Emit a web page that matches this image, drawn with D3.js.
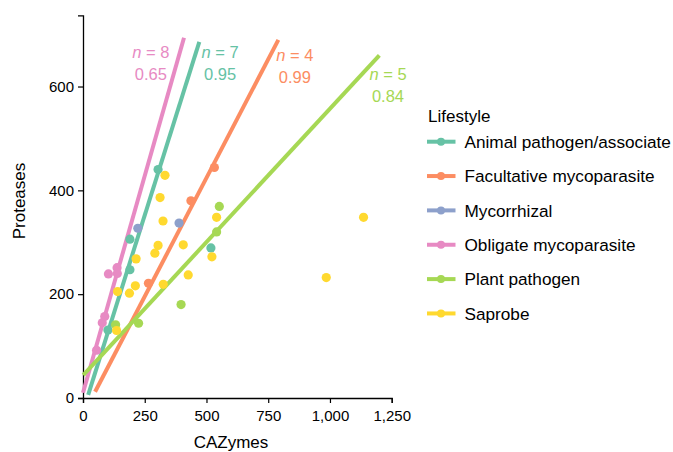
<!DOCTYPE html>
<html>
<head>
<meta charset="utf-8">
<script src="https://cdn.jsdelivr.net/npm/d3@7"></script>
<style>
  body { margin: 0; background: #fff; }
  text { font-family: "Liberation Sans", Arial, sans-serif; }
</style>
</head>
<body>
<script>
// lifestyle groups and Set2-like colours
var groups = ["Animal pathogen/associate", "Facultative mycoparasite", "Mycorrhizal",
              "Obligate mycoparasite", "Plant pathogen", "Saprobe"];
var colors = ["#66c2a5", "#fc8d62", "#8da0cb", "#e78ac3", "#a6d854", "#ffd92f"];

// [CAZymes, Proteases] per species
var animalPts = [[304, 440], [190, 306], [190, 247], [518, 289], [101, 131]];
var facultPts = [[532, 444], [437, 380], [265, 221]];
var mycorPts  = [[222, 327], [389, 337]];
var obligPts  = [[138, 251], [103, 239], [139, 240], [88, 157], [78, 145], [55, 92]];
var plantPts  = [[552, 369], [541, 320], [397, 180], [225, 144], [132, 141]];
var saproPts  = [[312, 386], [324, 341], [541, 348], [304, 294], [291, 279], [406, 295],
                 [522, 272], [215, 268], [426, 237], [325, 219], [212, 216], [188, 202],
                 [140, 205], [136, 130], [985, 232], [1136, 348], [332, 429]];

// fitted lines (start, end) for the four groups with fits
var fitLines = [
  {g: 3, ends: [[0, 10], [409, 694]]},
  {g: 0, ends: [[21, 6], [471, 686]]},
  {g: 1, ends: [[49, 12], [791, 690]]},
  {g: 4, ends: [[1, 44], [1200, 660]]}
];
// annotation: group, n, r2, anchor in data units
var notes = [
  {g: 3, n: 8, r: "0.65", at: [275, 654]},
  {g: 0, n: 7, r: "0.95", at: [555, 654]},
  {g: 1, n: 4, r: "0.99", at: [858, 649]},
  {g: 4, n: 5, r: "0.84", at: [1235, 612]}
];

var xTicks = [0, 250, 500, 750, 1000, 1250];
var yTicks = [0, 200, 400, 600];

var allPts = [animalPts, facultPts, mycorPts, obligPts, plantPts, saproPts];

var W = 673, H = 452;
var svg = d3.select("body").append("svg").attr("width", W).attr("height", H);

var x = d3.scaleLinear().domain([0, 1250]).range([83, 391.7]);
var y = d3.scaleLinear().domain([0, 737]).range([398, 15.4]);

var xAxis = svg.append("g").attr("transform", "translate(0,398)")
  .call(d3.axisBottom(x).tickValues(xTicks).tickFormat(d3.format(",")).tickSize(5).tickPadding(4));
var yAxis = svg.append("g").attr("transform", "translate(83,0)")
  .call(d3.axisLeft(y).tickValues(yTicks).tickSize(5).tickPadding(4));

[xAxis, yAxis].forEach(function(a) {
  a.select(".domain").attr("stroke", "#000").attr("stroke-width", 1.3);
  a.selectAll(".tick line").attr("stroke", "#000").attr("stroke-width", 1.2);
  a.selectAll(".tick text").attr("fill", "#000").style("font-size", "15px");
});
xAxis.selectAll(".tick text").attr("dy", "0.95em");

svg.append("text").attr("x", 231).attr("y", 448).attr("text-anchor", "middle")
  .style("font-size", "17px").text("CAZymes");
svg.append("text").attr("transform", "translate(25,201) rotate(-90)").attr("text-anchor", "middle")
  .style("font-size", "17px").text("Proteases");

// regression lines
svg.selectAll(".fit").data(fitLines).enter().append("line")
  .attr("class", "fit")
  .attr("x1", function(d) { return x(d.ends[0][0]); })
  .attr("y1", function(d) { return y(d.ends[0][1]); })
  .attr("x2", function(d) { return x(d.ends[1][0]); })
  .attr("y2", function(d) { return y(d.ends[1][1]); })
  .attr("stroke", function(d) { return colors[d.g]; })
  .attr("stroke-width", 4);

// points
allPts.forEach(function(pts, gi) {
  svg.append("g").selectAll("circle").data(pts).enter().append("circle")
    .attr("cx", function(d) { return x(d[0]); })
    .attr("cy", function(d) { return y(d[1]); })
    .attr("r", 4.6)
    .attr("fill", colors[gi]);
});

// n and r2 labels
var nt = svg.selectAll(".note").data(notes).enter().append("g").attr("class", "note")
  .attr("transform", function(d) { return "translate(" + x(d.at[0]) + "," + y(d.at[1]) + ")"; })
  .attr("fill", function(d) { return colors[d.g]; })
  .style("font-size", "16.5px").attr("text-anchor", "middle");
nt.append("text").html(function(d) { return "<tspan font-style='italic'>n</tspan> = " + d.n; });
nt.append("text").attr("y", 21.5).text(function(d) { return d.r; });

// legend
var lg = svg.append("g").attr("transform", "translate(427,0)");
lg.append("text").attr("x", 1).attr("y", 122).style("font-size", "17px").text("Lifestyle");
var item = lg.selectAll(".item").data(groups).enter().append("g")
  .attr("transform", function(d, i) { return "translate(0," + (141.7 + i * 34.35) + ")"; });
item.append("line").attr("x1", 0).attr("x2", 28.5)
  .attr("stroke", function(d, i) { return colors[i]; }).attr("stroke-width", 4);
item.append("circle").attr("cx", 14).attr("r", 4)
  .attr("fill", function(d, i) { return colors[i]; });
item.append("text").attr("x", 37.5).attr("dy", "0.36em").style("font-size", "17.2px")
  .text(function(d) { return d; });
</script>
</body>
</html>
